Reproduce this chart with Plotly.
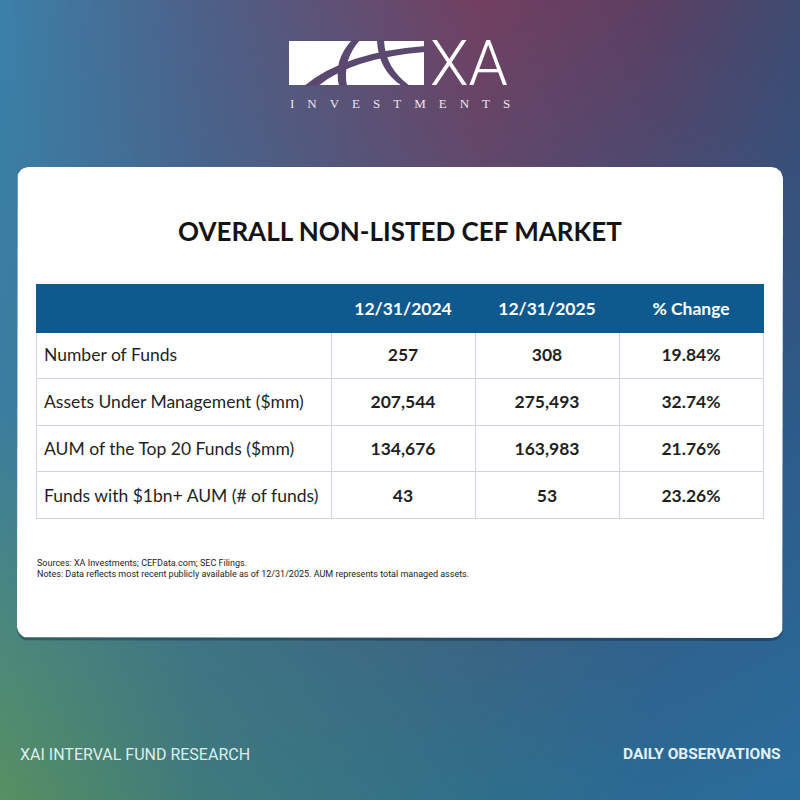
import numpy as np
import plotly.graph_objects as go

# table content
ROW_LABELS = [
    "Number of Funds",
    "Assets Under Management ($mm)",
    "AUM of the Top 20 Funds ($mm)",
    "Funds with $1bn+ AUM (# of funds)",
]
HEADERS = ["", "12/31/2024", "12/31/2025", "% Change"]
VALUES_2024 = [257, 207544, 134676, 43]
VALUES_2025 = [308, 275493, 163983, 53]
PCT_CHANGE = [19.84, 32.74, 21.76, 23.26]

TITLE = "OVERALL NON-LISTED CEF MARKET"
SOURCES = "Sources: XA Investments; CEFData.com; SEC Filings."
NOTES = ("Notes: Data reflects most recent publicly available as of 12/31/2025. "
         "AUM represents total managed assets.")
FOOTER_LEFT = "XAI INTERVAL FUND RESEARCH"
FOOTER_RIGHT = "DAILY OBSERVATIONS"

W, H = 800, 800
HEADER_BLUE = "#0e5a8e"
GRID_LINE = "#cdd5de"
CLEAR = "rgba(0,0,0,0)"
COL_WIDTHS = [295, 144, 144, 144]
TABLE_X = [36 / W, 763 / W]

# background colour anchors, blended between
GRID_X = [0, 200, 480, 650, 800]
GRID_Y = [0, 400, 800]
GRID_COLORS = [
    ["#3b80a8", "#4d6088", "#723f60", "#5c3f62", "#3e4a70"],
    ["#3a7da1", "#3f6a90", "#4a5478", "#3a5580", "#2c5a88"],
    ["#579060", "#3e7a7c", "#2f6f8a", "#2a6a95", "#2a6d9c"],
]


def hex_rgb(h):
    return [int(h[i:i + 2], 16) for i in (1, 3, 5)]


def gradient(n=160):
    xs = (np.arange(n) + 0.5) * W / n
    ys = (np.arange(n) + 0.5) * H / n
    rows = []
    for row in GRID_COLORS:
        rgb = np.array([hex_rgb(c) for c in row], float)
        rows.append(np.stack([np.interp(xs, GRID_X, rgb[:, k]) for k in range(3)], axis=-1))
    rows = np.array(rows)
    img = np.empty((n, n, 3))
    for i in range(n):
        for k in range(3):
            img[:, i, k] = np.interp(ys, GRID_Y, rows[:, i, k])
    return img.round().astype(int).tolist(), W / n


def rounded_outline(x0, y0, x1, y1, r, n=10):
    # corner centres, walked clockwise (y grows downwards)
    xs, ys = [], []
    corners = [(x1 - r, y0 + r, -90), (x1 - r, y1 - r, 0),
               (x0 + r, y1 - r, 90), (x0 + r, y0 + r, 180)]
    for cx, cy, start in corners:
        t = np.radians(np.linspace(start, start + 90, n))
        xs.extend(cx + r * np.cos(t))
        ys.extend(cy + r * np.sin(t))
    return xs + xs[:1], ys + ys[:1]


def cell(text, bold=False):
    # the <br> keeps plotly from re-wrapping and puts every cell on the same baseline rule
    return f"<b>{text}</b><br>" if bold else f"{text}<br>"


img, step = gradient()

fig = go.Figure()
fig.add_trace(go.Image(z=img, x0=step / 2, y0=step / 2, dx=step, dy=step,
                       zsmooth="fast", hoverinfo="skip"))

# card shadow and white card
sx, sy = rounded_outline(17, 170, 783, 641, 12)
fig.add_trace(go.Scatter(x=sx, y=sy, mode="lines", fill="toself", line_width=0,
                         fillcolor="rgba(10,30,50,0.35)", hoverinfo="skip"))
cx, cy = rounded_outline(17, 167, 783, 638, 12)
fig.add_trace(go.Scatter(x=cx, y=cy, mode="lines", fill="toself", line_width=0,
                         fillcolor="white", hoverinfo="skip"))

# grid of the table: fills and rules
fig.add_trace(go.Table(
    domain=dict(x=TABLE_X, y=[1 - 519 / H, 1 - 284 / H]),
    columnwidth=COL_WIDTHS,
    header=dict(values=[""] * len(HEADERS), fill_color=HEADER_BLUE,
                line=dict(color=HEADER_BLUE, width=1), height=48),
    cells=dict(values=[[""] * len(ROW_LABELS)] * len(HEADERS),
               fill_color="white", line=dict(color=GRID_LINE, width=1), height=46.5),
))

# text of the table, set a few px lower since plotly hangs cell text from the top
fig.add_trace(go.Table(
    domain=dict(x=TABLE_X, y=[1 - 524 / H, 1 - 290 / H]),
    columnwidth=COL_WIDTHS,
    header=dict(values=[cell(h, True) for h in HEADERS], fill_color=CLEAR,
                line=dict(color=CLEAR, width=0),
                font=dict(family="Lato", size=17.5, color="white"),
                align=["left", "center"], height=46),
    cells=dict(values=[[cell(r) for r in ROW_LABELS],
                       [cell(f"{v:,}", True) for v in VALUES_2024],
                       [cell(f"{v:,}", True) for v in VALUES_2025],
                       [cell(f"{p:.2f}%", True) for p in PCT_CHANGE]],
               fill_color=CLEAR, line=dict(color=CLEAR, width=0),
               font=dict(family="Lato", size=17.5, color="#1f1f1f"),
               align=["left", "center"], height=47),
))

shapes = [
    # logo block with its curved cuts
    dict(type="rect", x0=289, y0=41, x1=424, y1=85,
         fillcolor="white", line_width=0, layer="above"),
    dict(type="path", path="M 304,86 Q 345,52 425,46 L 425,52 Q 352,58 318,86 Z",
         fillcolor="#5a4870", line_width=0, layer="above"),
    dict(type="path", path="M 352,40 Q 333,60 339,86 L 347,86 Q 342,60 360,40 Z",
         fillcolor="#5a4870", line_width=0, layer="above"),
    dict(type="path", path="M 377,40 Q 378,70 402,86 L 410,86 Q 385,68 384,40 Z",
         fillcolor="#5a4870", line_width=0, layer="above"),
]
for s in shapes:
    s.update(xref="x", yref="y")

annotations = [
    dict(x=469, y=63, text="XA", font=dict(family="Roboto", size=63, color="white", weight=300)),
    dict(x=400, y=103, text="\u2003".join("INVESTMENTS"),
         font=dict(family="Liberation Serif", size=13, color="#ece6ee")),
    dict(x=400, y=231, text=f"<b>{TITLE}</b>",
         font=dict(family="Lato", size=26, color="#141414")),
    dict(x=35, y=563, text=SOURCES, xanchor="left",
         font=dict(family="Roboto", size=9, color="#222222")),
    dict(x=35, y=574, text=NOTES, xanchor="left",
         font=dict(family="Roboto", size=9, color="#222222")),
    dict(x=18, y=754, text=FOOTER_LEFT, xanchor="left",
         font=dict(family="Roboto", size=16, color="#dcefec")),
    dict(x=783, y=754, text=f"<b>{FOOTER_RIGHT}</b>", xanchor="right",
         font=dict(family="Roboto", size=15.5, color="#e2f0f8")),
]
for a in annotations:
    a.update(xref="x", yref="y", showarrow=False)

fig.update_layout(
    width=W, height=H, margin=dict(l=0, r=0, t=0, b=0),
    paper_bgcolor="#3a6a90", plot_bgcolor="#3a6a90",
    xaxis=dict(range=[0, W], visible=False, fixedrange=True),
    yaxis=dict(range=[H, 0], visible=False, fixedrange=True),
    shapes=shapes, annotations=annotations, showlegend=False,
)

fig.write_html("out.html", config={"displayModeBar": False},
               post_script="document.body.style.margin = '0';")
